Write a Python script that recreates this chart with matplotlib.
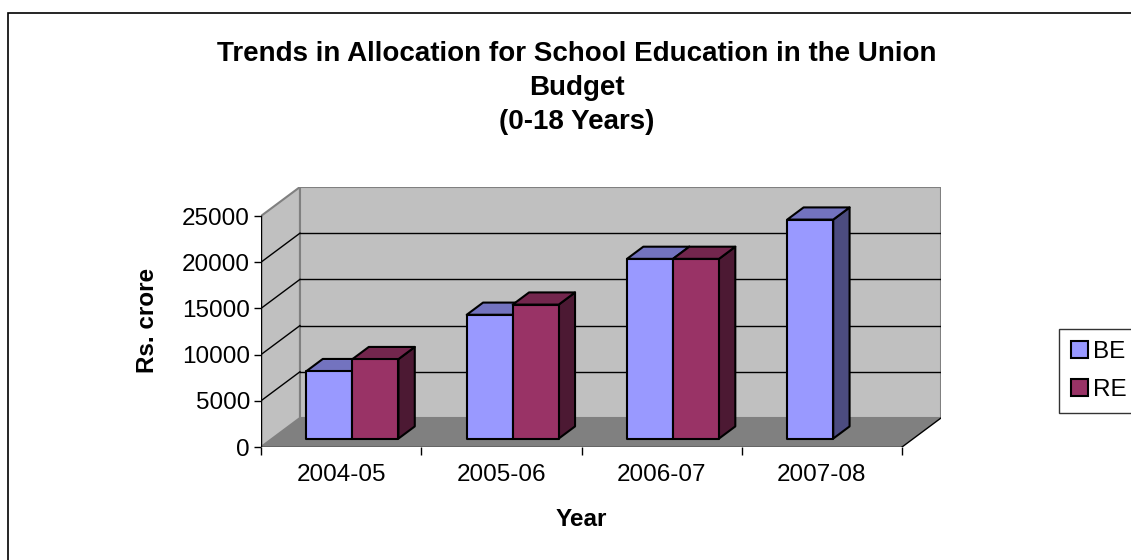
import matplotlib
matplotlib.use("Agg")
import matplotlib.pyplot as plt
from matplotlib.patches import Polygon, Patch, Rectangle

plt.rcParams["font.family"] = ["Liberation Sans", "DejaVu Sans"]

years = ["2004-05", "2005-06", "2006-07", "2007-08"]
be_values = [7300, 13400, 19450, 23700]
re_values = [8600, 14500, 19450, None]
y_ticks = [0, 5000, 10000, 15000, 20000, 25000]
grid_values = [5000, 10000, 15000, 20000]

W, H = 1131, 560
DX = 0.243          # shift of the back plane (category units)
DY = 3140           # shift of the back plane (Rs. crore)
D0, D1 = 0.29, 0.71  # depth range occupied by the bars
BAR_W = 0.287
YMAX = 25000
FS = 17.5


def proj(x, v, d):
    return (x + d * DX, v + d * DY)


def face(ax, pts, fc, ec="black", lw=1.5, z=3):
    ax.add_patch(Polygon([proj(*p) for p in pts], closed=True, facecolor=fc,
                         edgecolor=ec, linewidth=lw, joinstyle="round", zorder=z))


fig = plt.figure(figsize=(W / 100, H / 100), dpi=100)

# chart border (only top and left show)
fig.patches.append(Rectangle((8 / W, -0.1), 1.2, 1.1 - 13 / H, transform=fig.transFigure,
                             fill=False, edgecolor="black", linewidth=1.2))

ax = fig.add_axes([261 / W, (H - 447) / H, 680 / W, 260 / H])
ax.set_xlim(-0.5, 3.5 + DX)
ax.set_ylim(0, YMAX + DY)
for s in ax.spines.values():
    s.set_visible(False)
ax.patch.set_visible(False)

x0, x1 = -0.5, len(years) - 0.5

# walls and floor
face(ax, [(x0, 0, 0), (x1, 0, 0), (x1, 0, 1), (x0, 0, 1)], "#808080", ec="none", z=1)
face(ax, [(x0, 0, 1), (x1, 0, 1), (x1, YMAX, 1), (x0, YMAX, 1)], "#C0C0C0", ec="#808080", z=1)
face(ax, [(x0, 0, 0), (x0, 0, 1), (x0, YMAX, 1), (x0, YMAX, 0)], "#C0C0C0", ec="#808080", z=1)
ax.plot(*zip(proj(x1, 0, 0), proj(x1, 0, 1)), color="black", lw=1.0, zorder=2)

# gridlines on back and side wall
for g in grid_values:
    ax.plot(*zip(proj(x0, g, 1), proj(x1, g, 1)), color="black", lw=1.0, zorder=2)
    ax.plot(*zip(proj(x0, g, 0), proj(x0, g, 1)), color="black", lw=1.0, zorder=2)

# axis lines
ax.plot([x0, x0], [0, YMAX], color="black", lw=1.0, zorder=2)
ax.plot([x0, x1], [0, 0], color="black", lw=1.0, zorder=2)

series = [
    ("BE", be_values, ("#9999FF", "#7373BF", "#4C4C80")),
    ("RE", re_values, ("#993366", "#73264D", "#4C1933")),
]

for i in range(len(years)):
    for j, (name, vals, (c_front, c_top, c_side)) in enumerate(series):
        v = vals[i]
        if v is None:
            continue
        xl = i - BAR_W + j * BAR_W
        xr = xl + BAR_W
        face(ax, [(xr, 0, D0), (xr, 0, D1), (xr, v, D1), (xr, v, D0)], c_side)
        face(ax, [(xl, v, D0), (xr, v, D0), (xr, v, D1), (xl, v, D1)], c_top)
        face(ax, [(xl, 0, D0), (xr, 0, D0), (xr, v, D0), (xl, v, D0)], c_front)

# ticks
ax.set_yticks(y_ticks)
ax.set_yticklabels([str(t) for t in y_ticks])
ax.tick_params(axis="y", direction="out", length=5, width=1, pad=3, labelsize=FS)
ax.set_xticks(range(len(years)))
ax.set_xticklabels(years)
ax.set_xticks([x0 + k for k in range(len(years) + 1)], minor=True)
ax.tick_params(axis="x", which="major", length=0, pad=12, labelsize=FS)
ax.tick_params(axis="x", which="minor", direction="out", length=6, width=1)

fig.text(148 / W, 1 - 320 / H, "Rs. crore", rotation=90, ha="center", va="center",
         fontsize=FS, fontweight="bold")
fig.text(581 / W, 1 - 520 / H, "Year", ha="center", va="center",
         fontsize=FS, fontweight="bold")
fig.text(577 / W, 1 - 88 / H,
         "Trends in Allocation for School Education in the Union\nBudget\n(0-18 Years)",
         ha="center", va="center", multialignment="center",
         fontsize=20, fontweight="bold", linespacing=1.42)

handles = [Patch(facecolor=c[0], edgecolor="black", linewidth=1.5, label=n)
           for n, _, c in series]
leg = fig.legend(handles=handles, loc="upper left", bbox_to_anchor=(1059 / W, 1 - 329 / H),
                 frameon=True, fancybox=False, edgecolor="black", fontsize=FS,
                 handlelength=0.7, handleheight=0.7, handletextpad=0.2,
                 labelspacing=0.65, borderpad=0.5, borderaxespad=0)
leg.get_frame().set_linewidth(1.0)

fig.savefig("out.png", dpi=100)
